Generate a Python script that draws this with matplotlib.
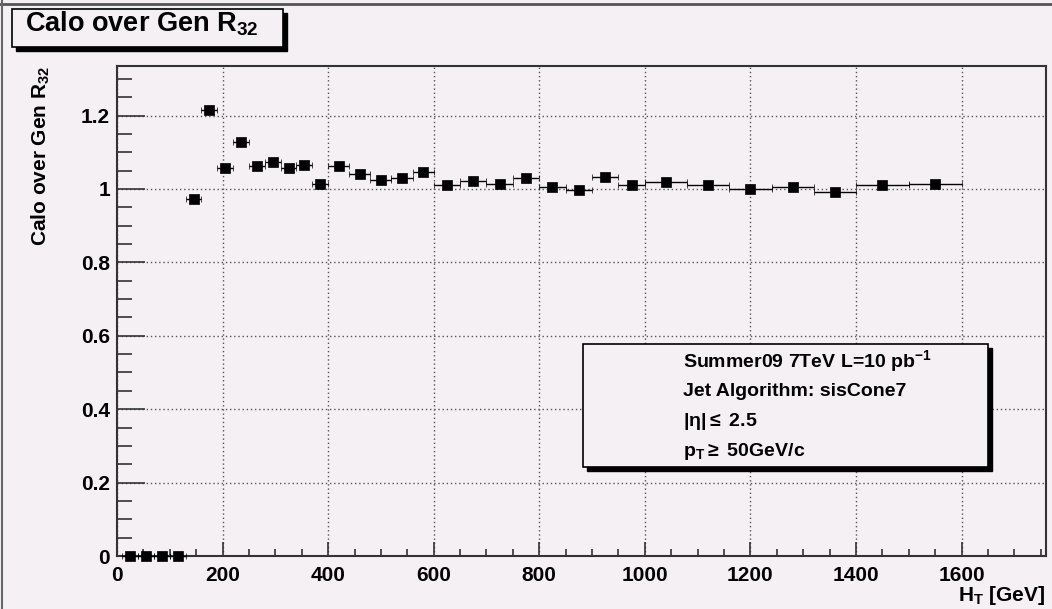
import matplotlib.pyplot as plt
from matplotlib.patches import Rectangle
from matplotlib.lines import Line2D
from matplotlib.ticker import MultipleLocator, FormatStrFormatter

# H_T bins (GeV): centre and half width, and the Calo/Gen R32 ratio
ht_center = [25, 55, 85, 115, 145, 175, 205, 235, 265, 295, 325, 355, 385,
             420, 460, 500, 540, 580,
             625, 675, 725, 775, 825, 875, 925, 975,
             1040, 1120, 1200, 1280, 1360,
             1450, 1550]
ht_halfwidth = [15] * 13 + [20] * 5 + [25] * 8 + [40] * 5 + [50] * 2
ratio = [0, 0, 0, 0, 0.974, 1.216, 1.057, 1.128, 1.062, 1.074, 1.057, 1.065, 1.014,
         1.062, 1.042, 1.025, 1.030, 1.045,
         1.010, 1.021, 1.014, 1.030, 1.005, 0.997, 1.033, 1.010,
         1.018, 1.010, 1.001, 1.006, 0.993,
         1.010, 1.014]

legend_lines = [r"Summer09 7TeV L=10 pb$^{-1}$",
                r"Jet Algorithm: sisCone7",
                r"$|\eta|\leq$ 2.5",
                r"p$_{\mathrm{T}}$$\geq$ 50GeV/c"]

plt.rcParams['font.family'] = ['Liberation Sans', 'DejaVu Sans']
plt.rcParams['font.weight'] = 'bold'
plt.rcParams['mathtext.fontset'] = 'custom'
plt.rcParams['mathtext.rm'] = 'Liberation Sans:bold'
plt.rcParams['mathtext.bf'] = 'Liberation Sans:bold'
plt.rcParams['mathtext.it'] = 'Liberation Sans'
plt.rcParams['mathtext.default'] = 'rm'

bg = '#f4f0f4'
W, H = 1052, 609
fig = plt.figure(figsize=(W / 100, H / 100), dpi=100, facecolor=bg)


def px(x, y):
    return x / W, 1 - y / H


l, t = px(117, 66)
r, b = px(1046, 556)
ax = fig.add_axes([l, b, r - l, t - b], facecolor=bg)

ax.errorbar(ht_center, ratio, xerr=ht_halfwidth, fmt='s', color='black',
            ms=6.5, mew=0.5, elinewidth=1, capsize=2.5, capthick=1,
            clip_on=False, zorder=5)

ax.set_xlim(0, 1760)
ax.set_ylim(0, 1.335)
ax.xaxis.set_major_locator(MultipleLocator(200))
ax.xaxis.set_minor_locator(MultipleLocator(50))
ax.yaxis.set_major_locator(MultipleLocator(0.2))
ax.yaxis.set_minor_locator(MultipleLocator(0.05))
ax.yaxis.set_major_formatter(FormatStrFormatter('%g'))
ax.xaxis.set_major_formatter(FormatStrFormatter('%g'))

ax.tick_params(axis='both', which='both', direction='in', color='#333333',
               labelsize=15, top=False, right=False)
ax.tick_params(axis='y', which='major', length=20, width=1.2, pad=5)
ax.tick_params(axis='y', which='minor', length=11, width=1.2)
ax.tick_params(axis='x', which='major', length=10, width=1.2, pad=7)
ax.tick_params(axis='x', which='minor', length=5, width=1.2)
for lab in ax.get_xticklabels() + ax.get_yticklabels():
    lab.set_fontweight('bold')

ax.grid(True, which='major', color='#555555', linestyle=(0, (1, 2)), lw=1)
ax.set_axisbelow(True)
for s in ax.spines.values():
    s.set_color('#333333')
    s.set_linewidth(1.5)

# title box with shadow
x0, y0 = px(12, 47)
x1, y1 = px(283, 9)
sx, sy = 4 / W, 4 / H
fig.patches.append(Rectangle((x0 + sx, y0 - sy), x1 - x0, y1 - y0, transform=fig.transFigure,
                             facecolor='black', edgecolor='black', zorder=1))
fig.patches.append(Rectangle((x0, y0), x1 - x0, y1 - y0, transform=fig.transFigure,
                             facecolor=bg, edgecolor='black', lw=1.2, zorder=2))
tx, ty = px(25, 32)
fig.text(tx, ty, r"Calo over Gen R$_{32}$", fontsize=19.5, fontweight='bold',
         va='baseline', ha='left', zorder=3)

# legend box with shadow
x0, y0 = px(583, 467)
x1, y1 = px(988, 344)
fig.patches.append(Rectangle((x0 + sx, y0 - sy), x1 - x0, y1 - y0, transform=fig.transFigure,
                             facecolor='black', edgecolor='black', zorder=6))
fig.patches.append(Rectangle((x0, y0), x1 - x0, y1 - y0, transform=fig.transFigure,
                             facecolor=bg, edgecolor='black', lw=1.2, zorder=7))
for i, line in enumerate(legend_lines):
    lx, ly = px(683, 367 + 29.5 * i)
    fig.text(lx, ly, line, fontsize=14, fontweight='bold', va='baseline',
             ha='left', zorder=8)

# axis titles
yx, yy = px(41, 66)
fig.text(yx, yy, r"Calo over Gen R$_{32}$", fontsize=15, fontweight='bold',
         rotation=90, ha='center', va='top')
xx, xy = px(1045, 601)
fig.text(xx, xy, r"H$_{\mathrm{T}}$ [GeV]", fontsize=15, fontweight='bold',
         ha='right', va='baseline')

# canvas border (top and left)
fig.add_artist(Line2D([0, 1], [1 - 4 / H, 1 - 4 / H], transform=fig.transFigure,
                      color='#555555', lw=2))
fig.add_artist(Line2D([1.5 / W, 1.5 / W], [0, 1], transform=fig.transFigure,
                      color='#666666', lw=1.5))

plt.savefig('out.png', dpi=100, facecolor=bg)
